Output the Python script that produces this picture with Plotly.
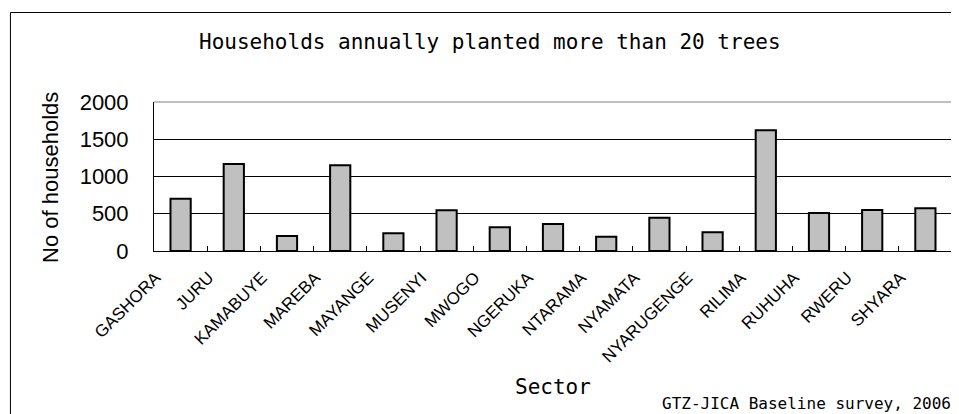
import plotly.graph_objects as go

sectors = ["GASHORA", "JURU", "KAMABUYE", "MAREBA", "MAYANGE", "MUSENYI", "MWOGO",
           "NGERUKA", "NTARAMA", "NYAMATA", "NYARUGENGE", "RILIMA", "RUHUHA", "RWERU", "SHYARA"]
households = [702, 1168, 201, 1150, 237, 546, 318, 362, 192, 447, 251, 1620, 510, 550, 573]
y_ticks = [0, 500, 1000, 1500, 2000]

title_text = "Households annually planted more than 20 trees"
x_title = "Sector"
y_title = "No of households"
source_text = "GTZ-JICA Baseline survey, 2006"

mono = "DejaVu Sans Mono"
sans = "Liberation Sans, Arial"

# page body has an 8px margin; the figure is sized to fill the rest of the window
W, H = 951, 406
PL, PR, PT, PB = 154, 951.7, 102, 251   # plot area in page pixels
PW, PHt = PR - PL, PB - PT


def px(x):
    return (x - PL) / PW


def py(y):
    return (PB - y) / PHt


fig = go.Figure(go.Bar(
    x=sectors, y=households,
    marker=dict(color="#c0c0c0", line=dict(color="black", width=2)),
))

fig.update_layout(
    width=W, height=H,
    margin=dict(l=PL - 8, r=W - (PR - 8), t=PT - 8, b=H - (PB - 8), pad=0),
    paper_bgcolor="white", plot_bgcolor="white",
    bargap=0.62,
    showlegend=False,
    font=dict(family=sans, color="black"),
)

fig.update_xaxes(
    type="category",
    tickangle=-45,
    tickfont=dict(family=sans, size=17, color="black"),
    ticks="inside", tickson="boundaries", ticklen=5, tickcolor="black",
    ticklabelshift=-25, ticklabelstandoff=9,
    showline=True, linecolor="black", linewidth=1,
    showgrid=False,
)
fig.update_yaxes(
    range=[0, 2000], tickvals=y_ticks,
    tickfont=dict(family=sans, size=22, color="black"),
    ticks="inside", ticklen=5, tickcolor="black",
    ticklabelstandoff=20,
    showline=True, linecolor="black", linewidth=1,
    showgrid=True, gridcolor="black", gridwidth=1,
    zeroline=False,
)

# top and right plot borders (gray)
fig.add_shape(type="line", xref="paper", yref="paper", x0=0, x1=1, y0=1, y1=1,
              line=dict(color="#808080", width=1))
fig.add_shape(type="line", xref="paper", yref="paper", x0=1, x1=1, y0=0, y1=1,
              line=dict(color="#808080", width=1))
# outer chart frame
fig.add_shape(type="rect", xref="paper", yref="paper",
              x0=px(10.5), x1=px(975), y0=py(430), y1=py(12.5),
              line=dict(color="black", width=1), fillcolor="rgba(0,0,0,0)", layer="below")

fig.add_annotation(text=title_text, xref="paper", yref="paper",
                   x=px(490), y=py(42), showarrow=False,
                   xanchor="center", yanchor="middle",
                   font=dict(family=mono, size=21, color="black"))
fig.add_annotation(text=y_title, xref="paper", yref="paper",
                   x=px(50), y=py(177), showarrow=False, textangle=-90,
                   xanchor="center", yanchor="middle",
                   font=dict(family=sans, size=22, color="black"))
fig.add_annotation(text=x_title, xref="paper", yref="paper",
                   x=px(553), y=py(387), showarrow=False,
                   xanchor="center", yanchor="middle",
                   font=dict(family=mono, size=21, color="black"))
fig.add_annotation(text=source_text, xref="paper", yref="paper",
                   x=px(953), y=py(403), showarrow=False,
                   xanchor="right", yanchor="middle",
                   font=dict(family=mono, size=16, color="black"))

fig.write_html("out.html")
